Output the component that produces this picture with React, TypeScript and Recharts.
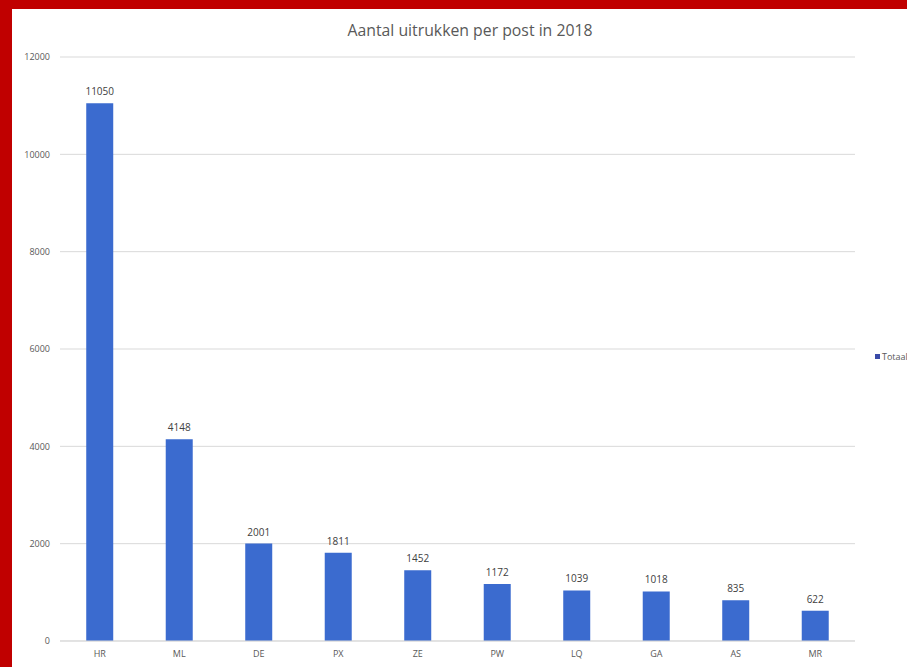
import React from 'react';
import { BarChart, Bar, XAxis, YAxis, CartesianGrid, LabelList } from 'recharts';

const posts = ['HR', 'ML', 'DE', 'PX', 'ZE', 'PW', 'LQ', 'GA', 'AS', 'MR'];
const totals = [11050, 4148, 2001, 1811, 1452, 1172, 1039, 1018, 835, 622];
const yTicks = [0, 2000, 4000, 6000, 8000, 10000, 12000];

const data = posts.map((post, i) => ({ post, Totaal: totals[i] }));

const BAR = '#3b6bcf';
const GREY = '#595959';

const App: React.FC = () => {
  return (
    <div style={{ position: 'fixed', left: 0, top: 0, width: 907, height: 667, background: '#c00000', fontFamily: '"Open Sans", sans-serif' }}>
      <div style={{ position: 'absolute', left: 12, top: 9, width: 895, height: 658, background: '#fff', overflow: 'hidden' }}>
        <div style={{ position: 'absolute', left: 0, width: 916, top: 10, textAlign: 'center', fontSize: 15.8, color: GREY }}>
          Aantal uitrukken per post in 2018
        </div>
        {/* legend sits at the right edge and gets cut off, like the screenshot */}
        <div style={{ position: 'absolute', left: 863, top: 341, display: 'flex', alignItems: 'center', fontSize: 9, color: GREY, whiteSpace: 'nowrap' }}>
          <span style={{ width: 5, height: 5, background: '#3a4aa8', marginRight: 2, display: 'inline-block' }} />
          Totaal
        </div>
        <BarChart
          width={895}
          height={658}
          data={data}
          margin={{ top: 48, right: 52, bottom: 6, left: 0 }}
          barCategoryGap="33%"
        >
          <CartesianGrid vertical={false} stroke="#d9d9d9" />
          <XAxis
            dataKey="post"
            height={20}
            tickLine={false}
            axisLine={{ stroke: '#d9d9d9' }}
            tick={{ fontSize: 9, fill: GREY }}
            tickMargin={4}
          />
          <YAxis
            width={48}
            domain={[0, 12000]}
            ticks={yTicks}
            axisLine={false}
            tickLine={false}
            tick={{ fontSize: 9, fill: GREY }}
            tickMargin={4}
          />
          <Bar dataKey="Totaal" fill={BAR} isAnimationActive={false}>
            <LabelList dataKey="Totaal" position="top" offset={8} style={{ fontSize: 10, fill: '#404040' }} />
          </Bar>
        </BarChart>
      </div>
    </div>
  );
};

export default App;
